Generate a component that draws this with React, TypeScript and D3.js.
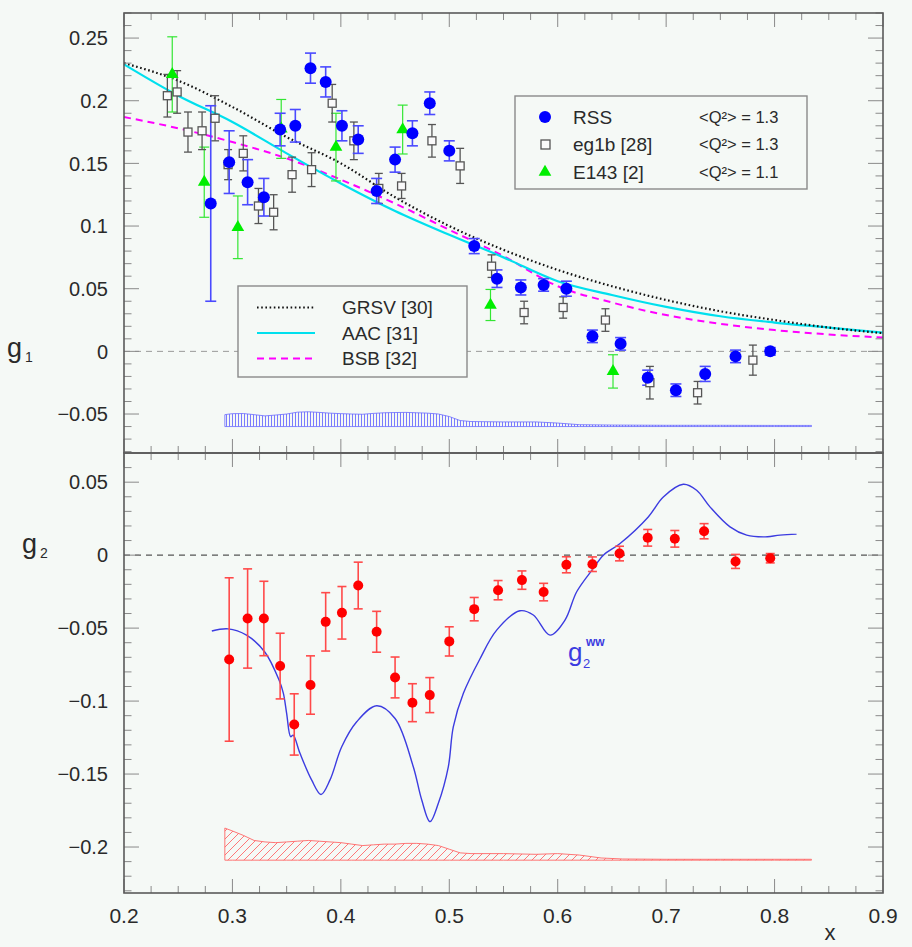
import React from 'react';
import * as d3 from 'd3';

const W = 912;
const H = 947;

// ---- top panel data (g1) ----
const rssX = [0.280, 0.297, 0.314, 0.329, 0.344, 0.358, 0.372, 0.386, 0.401, 0.416, 0.433, 0.450, 0.466, 0.482, 0.500, 0.523, 0.544, 0.566, 0.587, 0.608, 0.632, 0.658, 0.683, 0.709, 0.736, 0.764, 0.796];
const rssG1 = [0.118, 0.151, 0.135, 0.123, 0.177, 0.180, 0.226, 0.215, 0.180, 0.169, 0.128, 0.153, 0.174, 0.198, 0.160, 0.084, 0.058, 0.051, 0.053, 0.050, 0.012, 0.006, -0.021, -0.031, -0.018, -0.004, 0.000];
const rssErr = [0.078, 0.025, 0.018, 0.015, 0.013, 0.013, 0.012, 0.012, 0.012, 0.011, 0.010, 0.010, 0.010, 0.009, 0.008, 0.006, 0.007, 0.006, 0.005, 0.006, 0.005, 0.005, 0.006, 0.005, 0.006, 0.005, 0.003];

const eg1bX = [0.240, 0.249, 0.259, 0.272, 0.284, 0.296, 0.310, 0.324, 0.338, 0.355, 0.373, 0.392, 0.412, 0.435, 0.456, 0.484, 0.510, 0.539, 0.569, 0.605, 0.644, 0.685, 0.729, 0.780];
const eg1bG1 = [0.204, 0.207, 0.175, 0.176, 0.186, 0.149, 0.158, 0.116, 0.111, 0.141, 0.145, 0.198, 0.168, 0.130, 0.132, 0.168, 0.148, 0.068, 0.031, 0.035, 0.025, -0.025, -0.033, -0.007];
const eg1bErr = [0.017, 0.017, 0.016, 0.015, 0.018, 0.012, 0.014, 0.014, 0.014, 0.014, 0.0135, 0.015, 0.015, 0.012, 0.010, 0.013, 0.014, 0.009, 0.009, 0.0085, 0.009, 0.013, 0.009, 0.012];

const e143X = [0.2445, 0.274, 0.305, 0.345, 0.3955, 0.457, 0.538, 0.651];
const e143G1 = [0.221, 0.135, 0.099, 0.1775, 0.163, 0.177, 0.037, -0.016];
const e143Err = [0.030, 0.028, 0.025, 0.0235, 0.027, 0.0195, 0.0124, 0.0133];

const curveX = [0.20, 0.25, 0.30, 0.35, 0.40, 0.45, 0.50, 0.55, 0.60, 0.65, 0.70, 0.75, 0.80, 0.85, 0.90];
const grsv = [0.230, 0.216, 0.195, 0.171, 0.150, 0.123, 0.100, 0.081, 0.065, 0.052, 0.041, 0.032, 0.025, 0.019, 0.0145];
const aac = [0.229, 0.204, 0.183, 0.158, 0.134, 0.112, 0.093, 0.075, 0.056, 0.045, 0.0355, 0.028, 0.023, 0.019, 0.015];
const bsb = [0.187, 0.178, 0.167, 0.154, 0.137, 0.118, 0.097, 0.076, 0.052, 0.039, 0.029, 0.022, 0.017, 0.0135, 0.011];

const band1X = [0.293, 0.30, 0.31, 0.32, 0.33, 0.34, 0.35, 0.36, 0.37, 0.38, 0.39, 0.40, 0.41, 0.42, 0.43, 0.44, 0.45, 0.46, 0.47, 0.48, 0.49, 0.50, 0.51, 0.52, 0.55, 0.58, 0.60, 0.62, 0.65, 0.70, 0.75, 0.80, 0.834];
const band1Top = [-0.0505, -0.0497, -0.0496, -0.0505, -0.0515, -0.0508, -0.0500, -0.0485, -0.0482, -0.0487, -0.0493, -0.0497, -0.0500, -0.0502, -0.0495, -0.0490, -0.0488, -0.0487, -0.0490, -0.0493, -0.0500, -0.0520, -0.0552, -0.0560, -0.0563, -0.0563, -0.0572, -0.0585, -0.0588, -0.0590, -0.0590, -0.0591, -0.0591];
const band1Base = -0.060;

// ---- bottom panel data (g2) ----
const g2X = [0.297, 0.314, 0.329, 0.344, 0.357, 0.372, 0.386, 0.401, 0.416, 0.433, 0.450, 0.466, 0.482, 0.500, 0.523, 0.545, 0.567, 0.587, 0.608, 0.632, 0.657, 0.683, 0.708, 0.735, 0.764, 0.796];
const g2Val = [-0.0715, -0.0434, -0.0434, -0.076, -0.116, -0.089, -0.0457, -0.0395, -0.0208, -0.0525, -0.0838, -0.1011, -0.0959, -0.0591, -0.037, -0.024, -0.0171, -0.0253, -0.0066, -0.0062, 0.0011, 0.0119, 0.0112, 0.0164, -0.0043, -0.0021];
const g2Err = [0.056, 0.034, 0.0255, 0.0225, 0.021, 0.020, 0.020, 0.018, 0.016, 0.014, 0.014, 0.013, 0.012, 0.010, 0.008, 0.0066, 0.0063, 0.006, 0.0055, 0.005, 0.005, 0.0057, 0.0057, 0.0052, 0.0048, 0.0032];

const wwX = [0.281, 0.296, 0.313, 0.330, 0.343, 0.347, 0.350, 0.3537, 0.356, 0.3623, 0.373, 0.3817, 0.390, 0.4008, 0.4146, 0.433, 0.450, 0.4668, 0.4746, 0.4822, 0.4899, 0.4991, 0.5037, 0.513, 0.528, 0.5437, 0.5652, 0.5775, 0.5929, 0.6067, 0.6175, 0.6328, 0.6421, 0.6575, 0.6835, 0.6974, 0.7158, 0.7281, 0.7404, 0.7589, 0.7743, 0.7896, 0.805, 0.8203];
const wwVal = [-0.052, -0.0505, -0.0548, -0.0665, -0.0856, -0.0947, -0.1084, -0.1244, -0.1233, -0.1358, -0.154, -0.164, -0.154, -0.1313, -0.1142, -0.1032, -0.1119, -0.145, -0.1678, -0.1826, -0.170, -0.145, -0.1176, -0.0947, -0.0715, -0.0514, -0.0381, -0.041, -0.0548, -0.0445, -0.0251, -0.0091, 0.0, 0.008, 0.0262, 0.0399, 0.0486, 0.0445, 0.0331, 0.0194, 0.0137, 0.0125, 0.0137, 0.0144];

const band2X = [0.293, 0.30, 0.31, 0.32, 0.33, 0.34, 0.35, 0.36, 0.37, 0.38, 0.39, 0.40, 0.41, 0.42, 0.43, 0.44, 0.45, 0.46, 0.47, 0.48, 0.49, 0.50, 0.51, 0.52, 0.55, 0.58, 0.60, 0.62, 0.64, 0.66, 0.70, 0.75, 0.80, 0.834];
const band2Top = [-0.187, -0.189, -0.192, -0.1955, -0.1965, -0.197, -0.1965, -0.196, -0.1955, -0.196, -0.1965, -0.197, -0.198, -0.199, -0.1985, -0.198, -0.198, -0.1975, -0.1975, -0.198, -0.199, -0.2015, -0.204, -0.2045, -0.2045, -0.205, -0.2045, -0.2055, -0.2075, -0.2082, -0.2084, -0.2084, -0.2084, -0.2084];
const band2Base = -0.209;

// ---- axis ticks / labels ----
const xTickLabels = [0.2, 0.3, 0.4, 0.5, 0.6, 0.7, 0.8, 0.9];
const y1TickLabels = [-0.05, 0, 0.05, 0.1, 0.15, 0.2, 0.25];
const y2TickLabels = [-0.2, -0.15, -0.1, -0.05, 0, 0.05];

const legend1Names = ['RSS', 'eg1b [28]', 'E143 [2]'];
const legend1Q2 = ['1.3', '1.3', '1.1'];
const legend2Names = ['GRSV [30]', 'AAC [31]', 'BSB [32]'];

const FONT = "'Liberation Sans', Arial, Helvetica, sans-serif";
const TXT = '#2a2a2a';
const BG = '#f5f9f6';

const fmt = (v: number) => (v === 0 ? '0' : String(+v.toFixed(2)).replace('-', '\u2212'));

export default function App() {
  const x = d3.scaleLinear().domain([0.2, 0.9]).range([124, 883]);
  const y1 = d3.scaleLinear().domain([-0.0811, 0.27]).range([453, 13]);
  const y2 = d3.scaleLinear().domain([-0.2315, 0.07]).range([893, 453]);
  const [xl, xr] = x.range();

  const xTicks = d3.range(0, 29).map((i) => 0.2 + i * 0.025);
  const y1Ticks = d3.range(-8, 28).map((i) => i / 100);
  const y2Ticks = d3.range(-23, 8).map((i) => i / 100);
  const majX = (v: number) => Math.abs(v * 10 - Math.round(v * 10)) < 1e-6;
  const majY = (v: number) => Math.abs(v * 20 - Math.round(v * 20)) < 1e-6;

  const mkLine = (ys: d3.ScaleLinear<number, number>, curve = d3.curveMonotoneX) =>
    d3.line<[number, number]>().x((d) => x(d[0])).y((d) => ys(d[1])).curve(curve);

  const pairs = (a: number[], b: number[]) => a.map((v, i) => [v, b[i]] as [number, number]);

  const band1 = d3.area<[number, number]>().x((d) => x(d[0])).y0(y1(band1Base)).y1((d) => y1(d[1]));
  const band2 = d3.area<[number, number]>().x((d) => x(d[0])).y0(y2(band2Base)).y1((d) => y2(d[1]));

  const tri = d3.symbol().type(d3.symbolTriangle).size(70)();

  const errBar = (cx: number, yTop: number, yBot: number, color: string, cap: number, sw = 1.4) => (
    <g stroke={color} strokeWidth={sw} fill="none">
      <line x1={cx} x2={cx} y1={yTop} y2={yBot} />
      <line x1={cx - cap} x2={cx + cap} y1={yTop} y2={yTop} />
      <line x1={cx - cap} x2={cx + cap} y1={yBot} y2={yBot} />
    </g>
  );

  const frame = (top: number, bottom: number, yTicks: number[], ys: d3.ScaleLinear<number, number>, key: string) => (
    <g key={key}>
      <g stroke="#8a8a8a" strokeWidth={1}>
        {xTicks.map((t, i) => {
          const L = majX(t) ? 14 : 7;
          return (
            <g key={i}>
              <line x1={x(t)} x2={x(t)} y1={bottom} y2={bottom - L} />
              <line x1={x(t)} x2={x(t)} y1={top} y2={top + L} />
            </g>
          );
        })}
        {yTicks.map((t, i) => {
          const L = majY(t) ? 15 : 7.5;
          return (
            <g key={i}>
              <line x1={xl} x2={xl + L} y1={ys(t)} y2={ys(t)} />
              <line x1={xr} x2={xr - L} y1={ys(t)} y2={ys(t)} />
            </g>
          );
        })}
      </g>
      <rect x={xl} y={top} width={xr - xl} height={bottom - top} fill="none" stroke="#5a5a5a" strokeWidth={1.6} />
    </g>
  );

  return (
    <svg width={W} height={H} style={{ position: 'absolute', left: 0, top: 0, fontFamily: FONT }}>
      <defs>
        <pattern id="hatchV" patternUnits="userSpaceOnUse" width={3} height={10}>
          <line x1={1.5} x2={1.5} y1={0} y2={10} stroke="#5a5aff" strokeWidth={0.8} />
        </pattern>
        <pattern id="hatchD" patternUnits="userSpaceOnUse" width={8} height={8}>
          <line x1={0} y1={8} x2={8} y2={0} stroke="#ff6a6a" strokeWidth={0.9} />
          <line x1={-1} y1={1} x2={1} y2={-1} stroke="#ff6a6a" strokeWidth={0.9} />
          <line x1={7} y1={9} x2={9} y2={7} stroke="#ff6a6a" strokeWidth={0.9} />
        </pattern>
      </defs>
      <rect x={0} y={0} width={W} height={H} fill={BG} />

      {/* ========== TOP PANEL ========== */}
      <path d={band1(pairs(band1X, band1Top)) || ''} fill="url(#hatchV)" stroke="#6a6aff" strokeWidth={0.8} />
      <line x1={xl} x2={xr} y1={y1(0)} y2={y1(0)} stroke="#9a9a9a" strokeWidth={1} strokeDasharray="6 5" />

      <path d={mkLine(y1)(pairs(curveX, bsb)) || ''} fill="none" stroke="#ff00ff" strokeWidth={2} strokeDasharray="7 5" />
      <path d={mkLine(y1)(pairs(curveX, aac)) || ''} fill="none" stroke="#00e0ee" strokeWidth={2.2} />
      <path d={mkLine(y1)(pairs(curveX, grsv)) || ''} fill="none" stroke="#111" strokeWidth={2.2} strokeDasharray="1.6 2.6" />

      {e143X.map((v, i) => (
        <g key={'ee' + i}>{errBar(x(v), y1(e143G1[i] + e143Err[i]), y1(e143G1[i] - e143Err[i]), '#33e633', 5, 1.2)}</g>
      ))}
      {eg1bX.map((v, i) => (
        <g key={'ge' + i}>{errBar(x(v), y1(eg1bG1[i] + eg1bErr[i]), y1(eg1bG1[i] - eg1bErr[i]), '#555', 4, 1.3)}</g>
      ))}
      {rssX.map((v, i) => (
        <g key={'re' + i}>{errBar(x(v), y1(rssG1[i] + rssErr[i]), y1(rssG1[i] - rssErr[i]), '#4a4aff', 5.5, 1.6)}</g>
      ))}
      {e143X.map((v, i) => (
        <path key={'et' + i} d={tri || ''} transform={`translate(${x(v)},${y1(e143G1[i])})`} fill="#00ee00" />
      ))}
      {eg1bX.map((v, i) => (
        <rect key={'gs' + i} x={x(v) - 4} y={y1(eg1bG1[i]) - 4} width={8} height={8} fill="#fafafa" stroke="#555" strokeWidth={1.3} />
      ))}
      {rssX.map((v, i) => (
        <circle key={'rc' + i} cx={x(v)} cy={y1(rssG1[i])} r={6} fill="#0000ff" />
      ))}

      {/* legend 1 */}
      <rect x={515} y={96} width={292} height={93} fill={BG} stroke="#8a8a8a" strokeWidth={1.4} />
      {legend1Names.map((n, i) => {
        const cy = 117 + i * 27.5;
        return (
          <g key={'l1' + i}>
            {i === 0 && <circle cx={545} cy={cy} r={6} fill="#0000ff" />}
            {i === 1 && <rect x={541} y={cy - 4.5} width={9} height={9} fill="#fafafa" stroke="#555" strokeWidth={1.3} />}
            {i === 2 && <path d={tri || ''} transform={`translate(545,${cy})`} fill="#00ee00" />}
            <text x={573} y={cy} dy="0.36em" fontSize={19} fill={TXT}>{n}</text>
            <text x={699} y={cy} dy="0.36em" fontSize={16.5} fill={TXT}>{`<Q\u00B2> = ${legend1Q2[i]}`}</text>
          </g>
        );
      })}

      {/* legend 2 */}
      <rect x={238} y={286} width={229} height={91} fill={BG} stroke="#8a8a8a" strokeWidth={1.4} />
      {legend2Names.map((n, i) => {
        const cy = 307.5 + i * 25.5;
        const stroke = ['#111', '#00e0ee', '#ff00ff'][i];
        const dash = ['1.6 2.6', undefined, '7 5'][i];
        return (
          <g key={'l2' + i}>
            <line x1={257} x2={315} y1={cy} y2={cy} stroke={stroke} strokeWidth={2.2} strokeDasharray={dash} />
            <text x={342} y={cy} dy="0.36em" fontSize={19} fill={TXT}>{n}</text>
          </g>
        );
      })}

      {frame(13, 453, y1Ticks, y1, 'f1')}

      {/* ========== BOTTOM PANEL ========== */}
      <path d={band2(pairs(band2X, band2Top)) || ''} fill="url(#hatchD)" stroke="#ff6666" strokeWidth={0.9} />
      <line x1={xl} x2={xr} y1={y2(0)} y2={y2(0)} stroke="#555" strokeWidth={1.2} strokeDasharray="6 5" />
      <path d={mkLine(y2, d3.curveCatmullRom)(pairs(wwX, wwVal)) || ''} fill="none" stroke="#3c3ce0" strokeWidth={1.4} />
      {g2X.map((v, i) => (
        <g key={'g2e' + i}>{errBar(x(v), y2(g2Val[i] + g2Err[i]), y2(g2Val[i] - g2Err[i]), '#ff4a4a', 4.5, 1.6)}</g>
      ))}
      {g2X.map((v, i) => (
        <circle key={'g2c' + i} cx={x(v)} cy={y2(g2Val[i])} r={5} fill="#ff0000" />
      ))}
      <text x={568} y={661} fontSize={26} fill="#3c3ce0">g</text>
      <text x={583} y={668} fontSize={13} fill="#3c3ce0">2</text>
      <text x={586} y={646} fontSize={12} fontWeight="bold" fill="#3c3ce0">ww</text>

      {frame(453, 893, y2Ticks, y2, 'f2')}

      {/* axis labels */}
      {y1TickLabels.map((v, i) => (
        <text key={'y1l' + i} x={108} y={y1(v)} dy="0.36em" textAnchor="end" fontSize={20} fill={TXT}>{fmt(v)}</text>
      ))}
      {y2TickLabels.map((v, i) => (
        <text key={'y2l' + i} x={108} y={y2(v)} dy="0.36em" textAnchor="end" fontSize={20} fill={TXT}>{fmt(v)}</text>
      ))}
      {xTickLabels.map((v, i) => (
        <text key={'xl' + i} x={x(v)} y={923} textAnchor="middle" fontSize={21} fill={TXT}>{fmt(v)}</text>
      ))}
      <text x={830} y={940} textAnchor="middle" fontSize={22} fill={TXT}>x</text>
      <text x={7} y={357} fontSize={27} fill={TXT}>g</text>
      <text x={25} y={362} fontSize={14} fill={TXT}>1</text>
      <text x={22} y={553} fontSize={27} fill={TXT}>g</text>
      <text x={40} y={558} fontSize={14} fill={TXT}>2</text>
    </svg>
  );
}
